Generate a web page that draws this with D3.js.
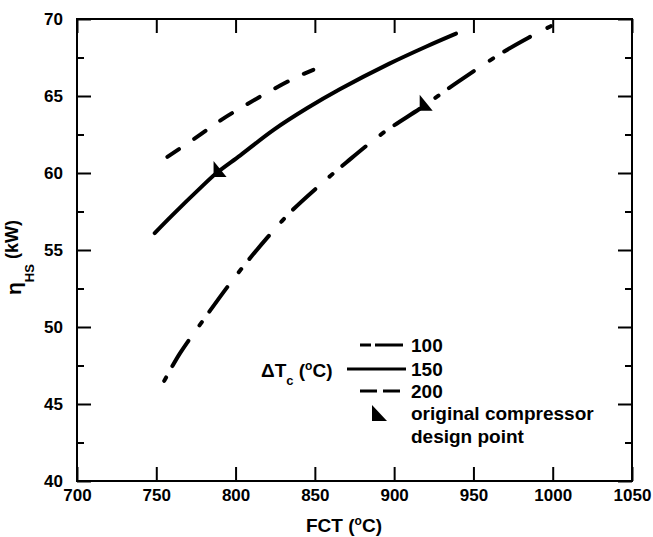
<!DOCTYPE html>
<html>
<head>
<meta charset="utf-8">
<script src="https://cdn.jsdelivr.net/npm/d3@7"></script>
<style>
  body { margin: 0; background: #fff; }
  text { font-family: "Liberation Sans", Arial, sans-serif; font-weight: bold; fill: #000; }
</style>
</head>
<body>
<div id="chart"></div>
<script>
// curve data (FCT in degC, eta_HS in kW)
const fct100 = [755, 765, 780, 800, 820, 835, 853, 870, 893, 918, 940, 968, 985, 1000];
const eta100 = [46.5, 48.3, 50.5, 53.3, 55.8, 57.5, 59.2, 60.7, 62.6, 64.3, 65.9, 67.8, 68.8, 69.6];

const fct150 = [749, 760, 778, 788, 803, 824, 845, 866, 897, 920, 939];
const eta150 = [56.1, 57.25, 59.05, 60.0, 61.15, 62.8, 64.2, 65.45, 67.1, 68.2, 69.05];

const fct200 = [757, 775, 791, 807, 824, 840, 849];
const eta200 = [61.05, 62.3, 63.45, 64.45, 65.45, 66.3, 66.7];

// original compressor design points
const designFct = [788, 918];
const designEta = [60.0, 64.3];

const xTicks = [700, 750, 800, 850, 900, 950, 1000, 1050];
const yTicks = [40, 45, 50, 55, 60, 65, 70];
const yMinorTicks = [42.5, 47.5, 52.5, 57.5, 62.5, 67.5];

const legendLabels = ["100", "150", "200"];

const MARGIN = { LEFT: 77, RIGHT: 21, TOP: 19, BOTTOM: 56 };
const W = 653, H = 537;
const WIDTH = W - MARGIN.LEFT - MARGIN.RIGHT;
const HEIGHT = H - MARGIN.TOP - MARGIN.BOTTOM;

const svg = d3.select("#chart").append("svg")
    .attr("width", W)
    .attr("height", H);

const g = svg.append("g")
    .attr("transform", `translate(${MARGIN.LEFT}, ${MARGIN.TOP})`);

const x = d3.scaleLinear().domain([700, 1050]).range([0, WIDTH]);
const y = d3.scaleLinear().domain([40, 70]).range([HEIGHT, 0]);

// axes, ticks pointing inward
g.append("g").attr("transform", `translate(0, ${HEIGHT})`)
    .call(d3.axisBottom(x).tickValues(xTicks).tickSize(-14).tickPadding(8).tickFormat(d3.format("d")));
g.append("g")
    .call(d3.axisTop(x).tickValues(xTicks).tickSize(-14).tickFormat(""));
g.append("g")
    .call(d3.axisLeft(y).tickValues(yTicks).tickSize(-14).tickPadding(14).tickFormat(d3.format("d")));
g.append("g")
    .call(d3.axisLeft(y).tickValues(yMinorTicks).tickSize(-7).tickFormat(""));
g.append("g").attr("transform", `translate(${WIDTH}, 0)`)
    .call(d3.axisRight(y).tickValues(yTicks).tickSize(-14).tickFormat(""));
g.append("g").attr("transform", `translate(${WIDTH}, 0)`)
    .call(d3.axisRight(y).tickValues(yMinorTicks).tickSize(-7).tickFormat(""));

g.selectAll(".domain").remove();
g.selectAll("g").attr("font-family", null).attr("font-size", null);
g.selectAll(".tick line").attr("stroke", "#000").attr("stroke-width", 2);
g.selectAll(".tick text")
    .attr("font-weight", "bold")
    .style("font-family", "'Liberation Sans', Arial, sans-serif")
    .style("font-weight", "bold")
    .style("font-size", "17px")
    .attr("fill", "#000");

g.append("rect")
    .attr("width", WIDTH)
    .attr("height", HEIGHT)
    .attr("fill", "none")
    .attr("stroke", "#000")
    .attr("stroke-width", 2);

// curves
const line = d3.line()
    .x(d => x(d[0]))
    .y(d => y(d[1]))
    .curve(d3.curveCatmullRom.alpha(0.5));

const series = [
    { pts: d3.zip(fct100, eta100), dash: "4,13,30,19" },
    { pts: d3.zip(fct150, eta150), dash: null },
    { pts: d3.zip(fct200, eta200), dash: "14,18" }
];

g.selectAll("path.curve")
    .data(series)
    .enter().append("path")
    .attr("class", "curve")
    .attr("d", d => line(d.pts))
    .attr("fill", "none")
    .attr("stroke", "#000")
    .attr("stroke-width", 4)
    .attr("stroke-linecap", "round")
    .attr("stroke-dasharray", d => d.dash);

// design point markers
const tri = (px, py, w, h) => `M${px},${py - h}L${px},${py}L${px + w},${py}Z`;

g.selectAll("path.marker")
    .data(d3.zip(designFct, designEta))
    .enter().append("path")
    .attr("class", "marker")
    .attr("d", d => tri(x(d[0]) - 3, y(d[1]) + 4, 13, 16))
    .attr("fill", "#000");

// legend
const lg = svg.append("g");
const legendLines = [
    { x1: 360, x2: 403, y: 345, dash: "11,4,28" },
    { x1: 347, x2: 406, y: 369, dash: null },
    { x1: 360, x2: 403, y: 391, dash: "17,6" }
];
lg.selectAll("line")
    .data(legendLines)
    .enter().append("line")
    .attr("x1", d => d.x1).attr("x2", d => d.x2)
    .attr("y1", d => d.y).attr("y2", d => d.y)
    .attr("stroke", "#000")
    .attr("stroke-width", 3)
    .attr("stroke-dasharray", d => d.dash);

lg.selectAll("text.lab")
    .data(legendLabels)
    .enter().append("text")
    .attr("class", "lab")
    .attr("x", 411)
    .attr("y", (d, i) => [352, 375.5, 398][i])
    .style("font-size", "19px")
    .text(d => d);

lg.append("path")
    .attr("d", tri(372, 421, 15, 16))
    .attr("fill", "#000");

lg.append("text").attr("x", 411).attr("y", 419.5).style("font-size", "19px").text("original compressor");
lg.append("text").attr("x", 411).attr("y", 442.5).style("font-size", "19px").text("design point");

const dT = lg.append("text").attr("x", 261).attr("y", 376.5).style("font-size", "19px");
dT.append("tspan").text("\u0394T");
dT.append("tspan").attr("dy", 8).style("font-size", "13px").text("c");
dT.append("tspan").attr("dy", -8).text(" (");
dT.append("tspan").attr("dy", -7).style("font-size", "12px").text("o");
dT.append("tspan").attr("dy", 7).text("C)");

// axis titles
const xl = svg.append("text")
    .attr("x", 344)
    .attr("y", 532)
    .attr("text-anchor", "middle")
    .style("font-size", "19px");
xl.append("tspan").text("FCT (");
xl.append("tspan").attr("dy", -7).style("font-size", "12px").text("o");
xl.append("tspan").attr("dy", 7).text("C)");

const yl = svg.append("text")
    .attr("transform", "translate(21, 295) rotate(-90)")
    .style("font-size", "18px");
yl.append("tspan").style("font-size", "21px").text("\u03b7");
yl.append("tspan").attr("dy", 13).style("font-size", "13px").text("HS");
yl.append("tspan").attr("dy", -16).text(" (kW)");
</script>
</body>
</html>
